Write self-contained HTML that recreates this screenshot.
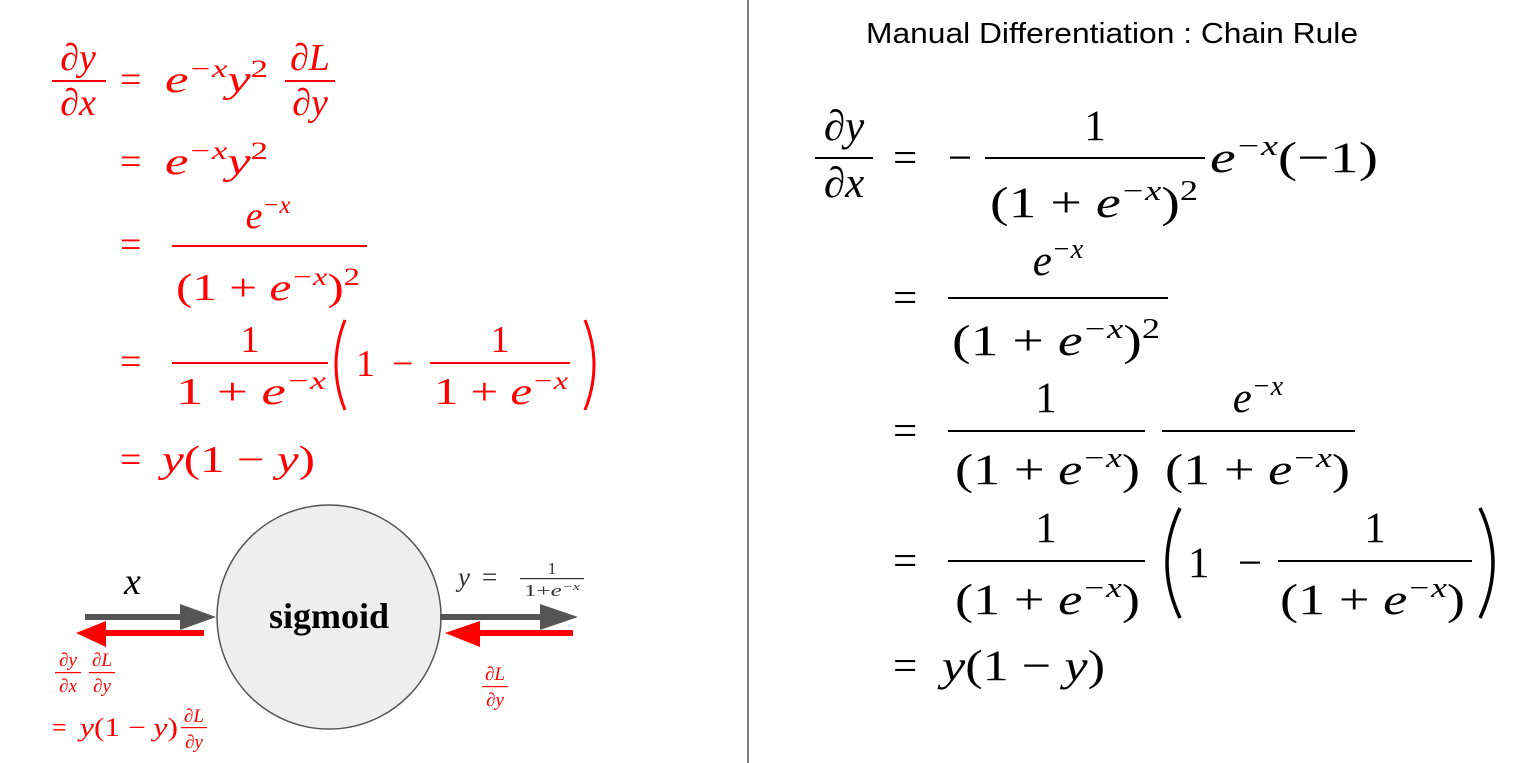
<!DOCTYPE html>
<html><head><meta charset="utf-8"><style>
html,body{margin:0;padding:0;background:#fff;}
svg{display:block;}
text{font-family:"Liberation Serif","DejaVu Serif",serif;}
.i{font-style:italic;}
</style></head><body>
<svg width="1515" height="763" viewBox="0 0 1515 763">
<line x1="748" y1="0" x2="748" y2="763" stroke="#555" stroke-width="1.5"/>

<!-- LEFT red derivation -->
<g fill="#f00" font-size="38">
  <text x="78" y="70" text-anchor="middle" class="i">∂y</text>
  <rect x="52" y="80" width="54" height="2"/>
  <text x="78" y="115" text-anchor="middle" class="i">∂x</text>
  <text x="120" y="92">=</text>
  <text x="165" y="92" textLength="103" lengthAdjust="spacingAndGlyphs"><tspan class="i">e</tspan><tspan font-size="25" dy="-15" class="i">−x</tspan><tspan dy="15" class="i">y</tspan><tspan font-size="25" dy="-15">2</tspan></text>
  <text x="310" y="70" text-anchor="middle" class="i">∂L</text>
  <rect x="285" y="80" width="50" height="2"/>
  <text x="310" y="115" text-anchor="middle" class="i">∂y</text>

  <text x="120" y="174">=</text>
  <text x="165" y="174" textLength="103" lengthAdjust="spacingAndGlyphs"><tspan class="i">e</tspan><tspan font-size="25" dy="-15" class="i">−x</tspan><tspan dy="15" class="i">y</tspan><tspan font-size="25" dy="-15">2</tspan></text>

  <text x="120" y="257">=</text>
  <text x="268" y="228" text-anchor="middle" class="i">e<tspan font-size="25" dy="-15">−x</tspan></text>
  <rect x="172" y="245" width="195" height="2"/>
  <text x="176" y="300" textLength="184" lengthAdjust="spacingAndGlyphs">(1 + <tspan class="i">e</tspan><tspan font-size="25" dy="-15" class="i">−x</tspan><tspan dy="15">)</tspan><tspan font-size="25" dy="-15">2</tspan></text>

  <text x="120" y="374">=</text>
  <text x="250" y="352" text-anchor="middle">1</text>
  <rect x="172" y="362" width="156" height="2"/>
  <text x="176" y="404" textLength="150" lengthAdjust="spacingAndGlyphs">1 + <tspan class="i">e</tspan><tspan font-size="25" dy="-15" class="i">−x</tspan></text>
  <path d="M345,320 Q327,365 345,410" fill="none" stroke="#f00" stroke-width="3"/>
  <text x="356" y="376">1</text>
  <text x="392" y="376">−</text>
  <text x="500" y="352" text-anchor="middle">1</text>
  <rect x="430" y="362" width="140" height="2"/>
  <text x="434" y="404" textLength="134" lengthAdjust="spacingAndGlyphs">1 + <tspan class="i">e</tspan><tspan font-size="25" dy="-15" class="i">−x</tspan></text>
  <path d="M585,320 Q603,365 585,410" fill="none" stroke="#f00" stroke-width="3"/>

  <text x="120" y="472">=</text>
  <text x="162" y="472" textLength="153" lengthAdjust="spacingAndGlyphs"><tspan class="i">y</tspan>(1 − <tspan class="i">y</tspan>)</text>
</g>

<!-- Diagram -->
<g>
  <circle cx="329" cy="617" r="112" fill="#eeeeee" stroke="#555" stroke-width="1.5"/>
  <text x="329" y="628" text-anchor="middle" font-size="36" font-weight="bold">sigmoid</text>
  <rect x="85" y="614" width="110" height="6" fill="#555"/>
  <polygon points="180,604 216,617 180,630" fill="#555"/>
  <rect x="440" y="614" width="120" height="6" fill="#555"/>
  <polygon points="540,604 578,617 540,630" fill="#555"/>
  <rect x="90" y="630" width="114" height="6" fill="#f00"/>
  <polygon points="106,621 76,633 106,647" fill="#f00"/>
  <rect x="460" y="630" width="113" height="6" fill="#f00"/>
  <polygon points="480,621 445,633 480,647" fill="#f00"/>
  <text x="124" y="594" font-size="38" class="i">x</text>
  <g fill="#333">
    <text x="458" y="586" font-size="27" class="i">y</text>
    <text x="482" y="586" font-size="27">=</text>
    <text x="552" y="574" font-size="17" text-anchor="middle">1</text>
    <rect x="520" y="578" width="64" height="1.2"/>
    <text x="524" y="596" font-size="17" textLength="56" lengthAdjust="spacingAndGlyphs">1+<tspan class="i">e</tspan><tspan font-size="11" dy="-6" class="i">−x</tspan></text>
  </g>
  <g fill="#f00" font-size="19" class="i">
    <text x="68" y="666" text-anchor="middle">∂y</text>
    <rect x="55" y="672" width="26" height="1.2"/>
    <text x="68" y="692" text-anchor="middle">∂x</text>
    <text x="102" y="666" text-anchor="middle">∂L</text>
    <rect x="89" y="672" width="26" height="1.2"/>
    <text x="102" y="692" text-anchor="middle">∂y</text>
    <text x="52" y="736" font-size="26" font-style="normal">=</text>
    <text x="80" y="736" font-size="26" font-style="normal" textLength="98" lengthAdjust="spacingAndGlyphs"><tspan class="i">y</tspan>(1 − <tspan class="i">y</tspan>)</text>
    <text x="194" y="722" text-anchor="middle">∂L</text>
    <rect x="181" y="727" width="26" height="1.2"/>
    <text x="194" y="748" text-anchor="middle">∂y</text>
    <text x="495" y="680" text-anchor="middle">∂L</text>
    <rect x="482" y="686" width="26" height="1.2"/>
    <text x="495" y="706" text-anchor="middle">∂y</text>
  </g>
</g>

<!-- RIGHT -->
<text x="866" y="43" font-size="29" textLength="492" lengthAdjust="spacingAndGlyphs" style="font-family:'Liberation Sans',sans-serif">Manual Differentiation : Chain Rule</text>
<g fill="#000" font-size="43">
  <text x="844" y="140" text-anchor="middle" class="i">∂y</text>
  <rect x="815" y="157" width="58" height="2"/>
  <text x="844" y="197" text-anchor="middle" class="i">∂x</text>
  <text x="893" y="172">=</text>
  <text x="948" y="172">−</text>
  <text x="1095" y="140" text-anchor="middle">1</text>
  <rect x="985" y="157" width="220" height="2"/>
  <text x="990" y="217" textLength="208" lengthAdjust="spacingAndGlyphs">(1 + <tspan class="i">e</tspan><tspan font-size="28" dy="-17" class="i">−x</tspan><tspan dy="17">)</tspan><tspan font-size="28" dy="-17">2</tspan></text>
  <text x="1210" y="172" textLength="168" lengthAdjust="spacingAndGlyphs"><tspan class="i">e</tspan><tspan font-size="28" dy="-17" class="i">−x</tspan><tspan dy="17">(−1)</tspan></text>

  <text x="893" y="312">=</text>
  <text x="1058" y="275" text-anchor="middle" class="i">e<tspan font-size="28" dy="-17">−x</tspan></text>
  <rect x="948" y="297" width="220" height="2"/>
  <text x="952" y="355" textLength="208" lengthAdjust="spacingAndGlyphs">(1 + <tspan class="i">e</tspan><tspan font-size="28" dy="-17" class="i">−x</tspan><tspan dy="17">)</tspan><tspan font-size="28" dy="-17">2</tspan></text>

  <text x="893" y="445">=</text>
  <text x="1046" y="412" text-anchor="middle">1</text>
  <rect x="948" y="430" width="197" height="2"/>
  <text x="955" y="484" textLength="185" lengthAdjust="spacingAndGlyphs">(1 + <tspan class="i">e</tspan><tspan font-size="28" dy="-17" class="i">−x</tspan><tspan dy="17">)</tspan></text>
  <text x="1258" y="412" text-anchor="middle" class="i">e<tspan font-size="28" dy="-17">−x</tspan></text>
  <rect x="1162" y="430" width="193" height="2"/>
  <text x="1165" y="484" textLength="185" lengthAdjust="spacingAndGlyphs">(1 + <tspan class="i">e</tspan><tspan font-size="28" dy="-17" class="i">−x</tspan><tspan dy="17">)</tspan></text>

  <text x="893" y="575">=</text>
  <text x="1046" y="542" text-anchor="middle">1</text>
  <rect x="948" y="560" width="197" height="2"/>
  <text x="955" y="614" textLength="185" lengthAdjust="spacingAndGlyphs">(1 + <tspan class="i">e</tspan><tspan font-size="28" dy="-17" class="i">−x</tspan><tspan dy="17">)</tspan></text>
  <path d="M1180,508 Q1154,563 1180,618" fill="none" stroke="#000" stroke-width="3.5"/>
  <text x="1188" y="577">1</text>
  <text x="1238" y="577">−</text>
  <text x="1375" y="542" text-anchor="middle">1</text>
  <rect x="1278" y="560" width="194" height="2"/>
  <text x="1280" y="614" textLength="185" lengthAdjust="spacingAndGlyphs">(1 + <tspan class="i">e</tspan><tspan font-size="28" dy="-17" class="i">−x</tspan><tspan dy="17">)</tspan></text>
  <path d="M1480,508 Q1506,563 1480,618" fill="none" stroke="#000" stroke-width="3.5"/>

  <text x="893" y="680">=</text>
  <text x="942" y="680" textLength="163" lengthAdjust="spacingAndGlyphs"><tspan class="i">y</tspan>(1 − <tspan class="i">y</tspan>)</text>
</g>
</svg>
</body></html>
